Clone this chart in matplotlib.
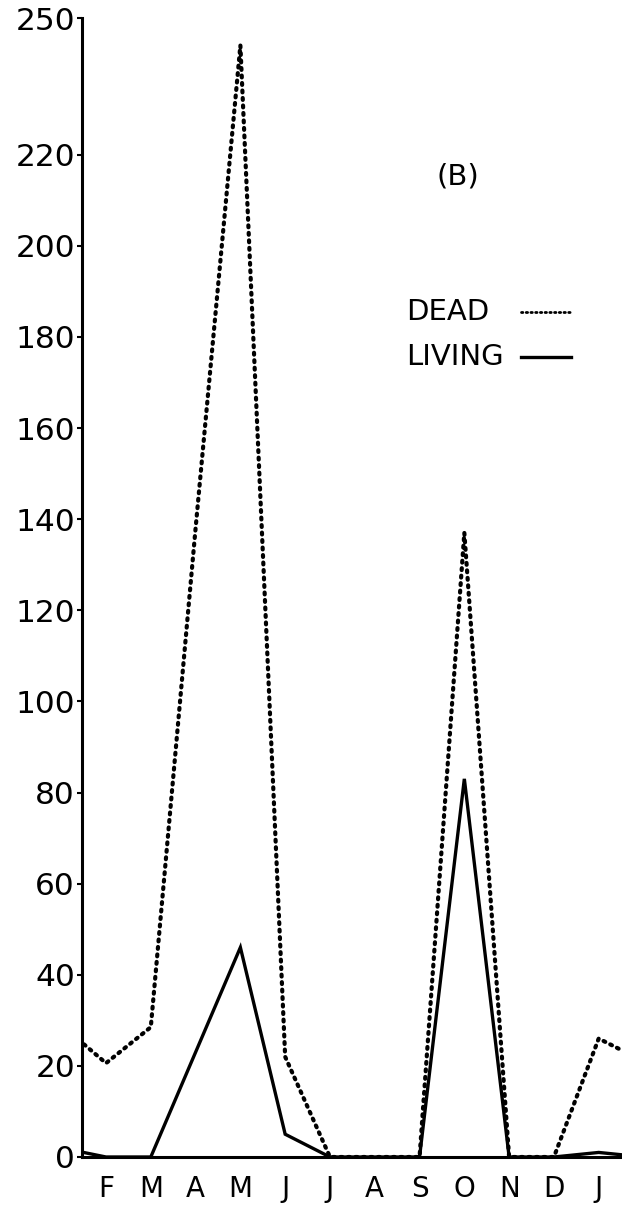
import matplotlib
matplotlib.use("Agg")
import matplotlib.pyplot as plt
from matplotlib.lines import Line2D

# Monthly counts, January through the following February
months = ["J", "F", "M", "A", "M", "J", "J", "A", "S", "O", "N", "D", "J", "F"]
dead = [29, 20.6, 28.5, 138, 244, 22, 0, 0, 0, 137, 0, 0, 26, 21]
living = [2, 0, 0, 23, 46, 5, 0, 0, 0, 83, 0, 0, 1, 0]
y_ticks = [0, 20, 40, 60, 80, 100, 120, 140, 160, 180, 200, 220, 250]

plt.rcParams["font.family"] = ["DejaVu Sans"]

W, H = 622, 1208
fig = plt.figure(figsize=(W / 100, H / 100), dpi=100)
ax = fig.add_axes([82 / W, 1 - 1157 / H, 1 - 82 / W, (1157 - 18) / H])

x = list(range(len(months)))
dotted = (0, (0.45, 1.35))
ax.plot(x, dead, color="black", lw=3.0, linestyle=dotted,
        dash_capstyle="round", solid_joinstyle="miter")
ax.plot(x, living, color="black", lw=2.4, solid_joinstyle="miter")

ax.set_xlim(0.464, 12.52)
ax.set_ylim(0, 250)

ax.set_yticks(y_ticks)
ax.set_yticklabels([str(v) for v in y_ticks])
ax.set_xticks(x[1:13])
ax.set_xticklabels(months[1:13])

for side in ("top", "right"):
    ax.spines[side].set_visible(False)
for side in ("left", "bottom"):
    ax.spines[side].set_linewidth(2.2)
    ax.spines[side].set_zorder(5)

ax.tick_params(axis="y", direction="out", length=3.5, width=1.5,
               pad=1.5, labelsize=22.5)
ax.tick_params(axis="x", length=0, pad=13, labelsize=20)

# Panel tag and key
fig.text(458 / W, 1 - 177 / H, "(B)", fontsize=21, ha="center", va="center")
fig.text(406 / W, 1 - 312 / H, "DEAD", fontsize=21, ha="left", va="center")
fig.text(406 / W, 1 - 357 / H, "LIVING", fontsize=21, ha="left", va="center")
fig.add_artist(Line2D([521 / W, 571 / W], [1 - 312 / H, 1 - 312 / H],
                      color="black", lw=2.0, linestyle=(0, (0.5, 1.2)),
                      dash_capstyle="round"))
fig.add_artist(Line2D([521 / W, 571 / W], [1 - 357 / H, 1 - 357 / H],
                      color="black", lw=2.4))

fig.savefig("out.png", dpi=100)
